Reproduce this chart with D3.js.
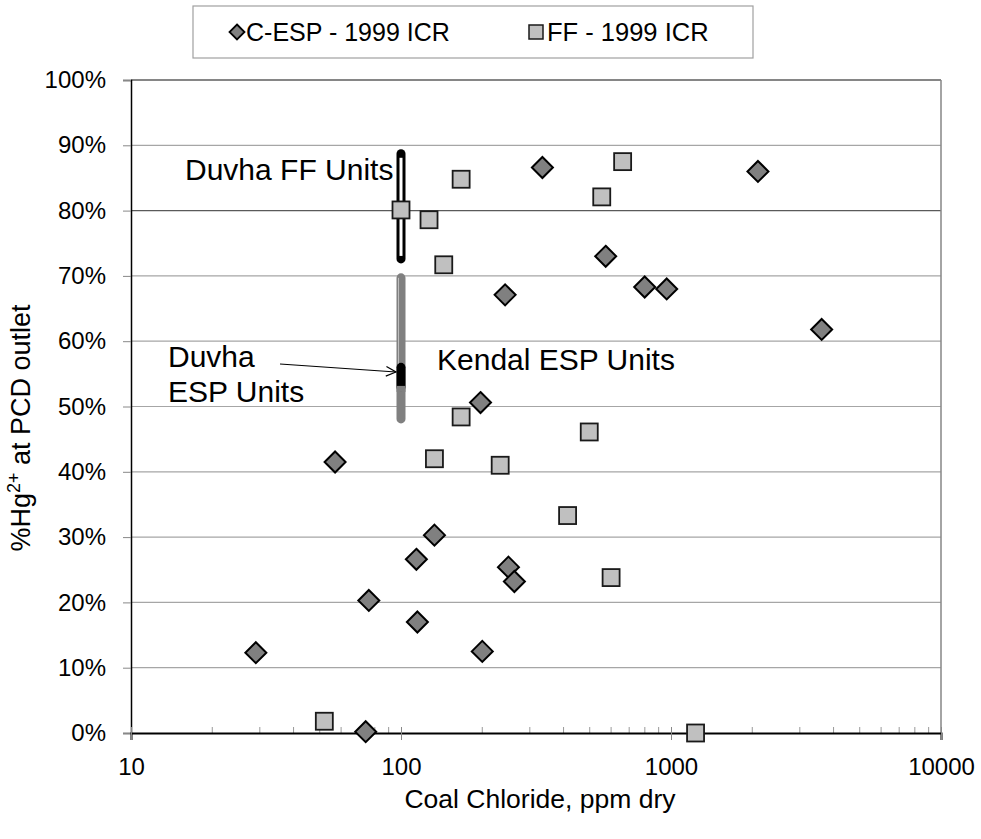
<!DOCTYPE html>
<html><head><meta charset="utf-8">
<script src="https://cdn.jsdelivr.net/npm/d3@7"></script>
<style>
body{margin:0;background:#fff;}
text{font-family:"Liberation Sans",Arial,sans-serif;fill:#000;}
</style></head>
<body><svg id="c" width="981" height="839"></svg>
<script>
// ---- data ----
const cespCl = [29, 57, 74, 76, 114, 115, 133, 197, 200, 243, 250, 263, 334, 573, 799, 964, 2099, 3614];
const cespHg = [12.3, 41.5, 0.2, 20.3, 26.6, 17.0, 30.3, 50.6, 12.5, 67.1, 25.4, 23.2, 86.6, 73.0, 68.3, 68.0, 86.0, 61.8];
const ffCl = [52, 100, 127, 133, 144, 167, 167, 233, 414, 498, 554, 600, 662, 1233];
const ffHg = [1.8, 80.1, 78.6, 42.0, 71.7, 84.8, 48.4, 41.0, 33.3, 46.1, 82.1, 23.8, 87.5, 0];
const duvhaFFRange = [72.6, 88.7];
const kendalRange = [48.1, 69.7];
const duvhaESPRange = [53.0, 56.0];
const rangeCl = 100;
const xTicks = [10, 100, 1000, 10000];
const yTicks = [0,10,20,30,40,50,60,70,80,90,100];
const legendLabels = ["C-ESP - 1999 ICR", "FF - 1999 ICR"];

const svg = d3.select("#c");
const L = 131, R = 941, T = 80, B = 733;
const x = d3.scaleLog().domain([10, 10000]).range([L, R]);
const y = d3.scaleLinear().domain([0, 100]).range([B, T]);

// gridlines
svg.append("g").selectAll("line").data(yTicks.filter(d => d > 0 && d < 100)).join("line")
  .attr("x1", L).attr("x2", R).attr("y1", d => y(d)).attr("y2", d => y(d))
  .attr("stroke", d => d === 80 ? "#5a5a5a" : "#a6a6a6").attr("stroke-width", 1.2);
// border top/right
svg.append("line").attr("x1", L).attr("x2", R).attr("y1", T).attr("y2", T).attr("stroke", "#868686").attr("stroke-width", 2);
svg.append("line").attr("x1", R).attr("x2", R).attr("y1", T).attr("y2", B).attr("stroke", "#868686").attr("stroke-width", 1.5);

// y axis
const yAxis = d3.axisLeft(y).tickValues(yTicks).tickFormat(d => d + "%").tickSize(8).tickPadding(17);
const gy = svg.append("g").attr("transform", `translate(${L},0)`).call(yAxis);
gy.select(".domain").attr("stroke", "#000").attr("stroke-width", 1.5);
gy.selectAll(".tick line").attr("stroke", "#888");
gy.selectAll(".tick text").style("font-size", "24px").style("font-family", "Liberation Sans, Arial, sans-serif").attr("fill", "#000");

// x axis minor ticks
const minor = [];
for (let dec = 10; dec < 10000; dec *= 10) for (let k = 2; k <= 9; k++) minor.push(dec * k);
svg.append("g").selectAll("line").data(minor).join("line")
  .attr("x1", d => x(d)).attr("x2", d => x(d)).attr("y1", B - 6).attr("y2", B)
  .attr("stroke", "#999").attr("stroke-width", 1);
const xAxis = d3.axisBottom(x).tickValues(xTicks).tickFormat(d3.format("d")).tickSize(7).tickPadding(18);
const gx = svg.append("g").attr("transform", `translate(0,${B})`).call(xAxis);
gx.select(".domain").attr("stroke", "#000").attr("stroke-width", 2);
gx.selectAll(".tick line").attr("stroke", "#888").attr("y1", -6);
gx.selectAll(".tick text").style("font-size", "24px").style("font-family", "Liberation Sans, Arial, sans-serif").attr("fill", "#000");

// axis titles
svg.append("text").attr("x", 540).attr("y", 808).attr("text-anchor", "middle")
  .style("font-size", "26.5px").text("Coal Chloride, ppm dry");
const yt = svg.append("text").attr("transform", `translate(30,428) rotate(-90)`)
  .attr("text-anchor", "middle").style("font-size", "27px");
yt.append("tspan").text("%Hg");
yt.append("tspan").attr("dy", -10).style("font-size", "18px").text("2+");
yt.append("tspan").attr("dy", 10).text(" at PCD outlet");

// range bars at 100 ppm
const bx = x(rangeCl);
svg.append("line").attr("x1", bx).attr("x2", bx).attr("y1", y(kendalRange[1])).attr("y2", y(kendalRange[0]))
  .attr("stroke", "#808080").attr("stroke-width", 9).attr("stroke-linecap", "round");
svg.append("line").attr("x1", bx - 2.5).attr("x2", bx - 2.5).attr("y1", y(kendalRange[1])).attr("y2", y(duvhaESPRange[1]))
  .attr("stroke", "#bdbdbd").attr("stroke-width", 1);
svg.append("line").attr("x1", bx).attr("x2", bx).attr("y1", y(duvhaESPRange[1])).attr("y2", y(duvhaESPRange[0]))
  .attr("stroke", "#000").attr("stroke-width", 9).attr("stroke-linecap", "round");
svg.append("rect").attr("x", bx - 4.5).attr("y", y(duvhaESPRange[0]) - 1).attr("width", 9).attr("height", 6).attr("fill", "#808080");
svg.append("line").attr("x1", bx).attr("x2", bx).attr("y1", y(duvhaFFRange[1])).attr("y2", y(duvhaFFRange[0]))
  .attr("stroke", "#000").attr("stroke-width", 9).attr("stroke-linecap", "round");
svg.append("line").attr("x1", bx).attr("x2", bx).attr("y1", y(duvhaFFRange[1]) + 4).attr("y2", y(duvhaFFRange[0]) - 3)
  .attr("stroke", "#fff").attr("stroke-width", 3);

// markers
const diamond = (cx, cy, r) => `M${cx},${cy - r}L${cx + r},${cy}L${cx},${cy + r}L${cx - r},${cy}Z`;
svg.append("g").selectAll("path").data(d3.range(cespCl.length)).join("path")
  .attr("d", i => diamond(x(cespCl[i]), y(cespHg[i]), 10.5))
  .attr("fill", "#808080").attr("stroke", "#000").attr("stroke-width", 2).attr("stroke-linejoin", "miter");
svg.append("g").selectAll("rect").data(d3.range(ffCl.length)).join("rect")
  .attr("x", i => x(ffCl[i]) - 8.5).attr("y", i => y(ffHg[i]) - 8.5).attr("width", 17).attr("height", 17)
  .attr("fill", "#c0c0c0").attr("stroke", "#1a1a1a").attr("stroke-width", 1.8);

// annotations
svg.append("text").attr("x", 185).attr("y", 180).style("font-size", "30px").text("Duvha FF Units");
svg.append("text").attr("x", 437).attr("y", 370).style("font-size", "30px").text("Kendal ESP Units");
svg.append("text").attr("x", 168).attr("y", 367).style("font-size", "30px").text("Duvha");
svg.append("text").attr("x", 168).attr("y", 402).style("font-size", "30px").text("ESP Units");
// arrow
const ax1 = 280, ay1 = 364, ax2 = 396, ay2 = 372;
svg.append("line").attr("x1", ax1).attr("y1", ay1).attr("x2", ax2).attr("y2", ay2).attr("stroke", "#000").attr("stroke-width", 1.2);
const ang = Math.atan2(ay2 - ay1, ax2 - ax1);
const ah = 11, aw = 0.45;
svg.append("path").attr("d", `M${ax2 - ah * Math.cos(ang - aw)},${ay2 - ah * Math.sin(ang - aw)}L${ax2},${ay2}L${ax2 - ah * Math.cos(ang + aw)},${ay2 - ah * Math.sin(ang + aw)}`)
  .attr("fill", "none").attr("stroke", "#000").attr("stroke-width", 1.2);

// legend
svg.append("rect").attr("x", 193).attr("y", 6).attr("width", 560).attr("height", 52)
  .attr("fill", "#fff").attr("stroke", "#a0a0a0").attr("stroke-width", 1.2);
svg.append("path").attr("d", diamond(237, 32, 7.5)).attr("fill", "#808080").attr("stroke", "#000").attr("stroke-width", 1.8);
svg.append("text").attr("x", 246).attr("y", 41).style("font-size", "25px").text(legendLabels[0]);
svg.append("rect").attr("x", 529).attr("y", 25).attr("width", 14).attr("height", 14).attr("fill", "#c0c0c0").attr("stroke", "#1a1a1a").attr("stroke-width", 1.5);
svg.append("text").attr("x", 547).attr("y", 41).style("font-size", "25.5px").text(legendLabels[1]);
</script></body></html>
